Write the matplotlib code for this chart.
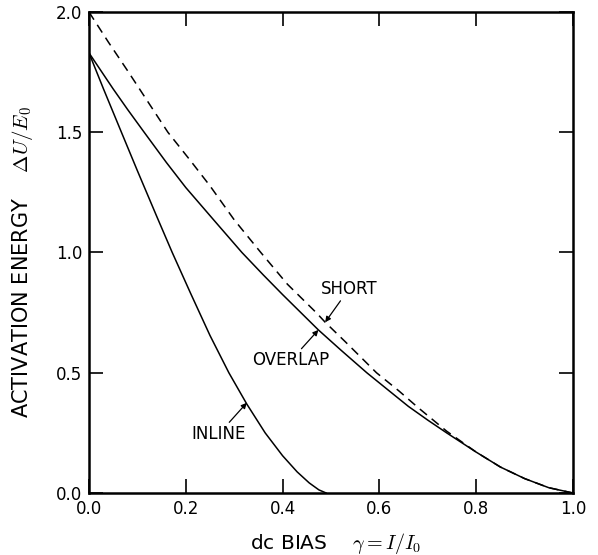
import matplotlib
matplotlib.use("Agg")
import matplotlib.pyplot as plt

# valori: bias gamma e energia di attivazione dU/E0
short_x = [0.0, 0.04, 0.08, 0.12, 0.163, 0.21, 0.25, 0.3, 0.355, 0.41, 0.47, 0.488, 0.53, 0.594,
           0.64, 0.68, 0.739, 0.8, 0.85, 0.9, 0.95, 1.0]
short_y = [2.0, 1.875, 1.755, 1.632, 1.5, 1.381, 1.277, 1.136, 1.0, 0.868, 0.749, 0.71, 0.628, 0.5,
           0.425, 0.355, 0.257, 0.17, 0.108, 0.06, 0.022, 0.0]

overlap_x = [0.0, 0.025, 0.05, 0.08, 0.114, 0.16, 0.2, 0.26, 0.316, 0.36, 0.4, 0.474, 0.52, 0.574,
             0.62, 0.66, 0.7, 0.739, 0.8, 0.85, 0.9, 0.95, 1.0]
overlap_y = [1.83, 1.755, 1.68, 1.594, 1.5, 1.374, 1.27, 1.13, 1.0, 0.907, 0.825, 0.678, 0.595, 0.5,
             0.425, 0.36, 0.303, 0.25, 0.17, 0.108, 0.06, 0.022, 0.0]

inline_x = [0.0, 0.03, 0.067, 0.1, 0.14, 0.172, 0.21, 0.25, 0.289, 0.326, 0.364, 0.4, 0.43,
            0.455, 0.475, 0.49]
inline_y = [1.83, 1.68, 1.5, 1.34, 1.15, 1.0, 0.83, 0.655, 0.5, 0.37, 0.25, 0.155, 0.088,
            0.042, 0.013, 0.0]

x_ticks = [0.0, 0.2, 0.4, 0.6, 0.8, 1.0]
y_ticks = [0.0, 0.5, 1.0, 1.5, 2.0]

plt.rcParams['mathtext.fontset'] = 'cm'

fig = plt.figure(figsize=(5.98, 5.55), dpi=100)
ax = fig.add_axes([0.1488, 0.1117, 0.8094, 0.8667])

ax.plot(short_x, short_y, color='black', lw=1.1, ls=(0, (6, 4)))
ax.plot(overlap_x, overlap_y, color='black', lw=1.1)
ax.plot(inline_x, inline_y, color='black', lw=1.1)

ax.set_xlim(0, 1)
ax.set_ylim(0, 2)
ax.set_xticks(x_ticks)
ax.set_yticks(y_ticks)
ax.set_xticklabels(['%.1f' % t for t in x_ticks])
ax.set_yticklabels(['%.1f' % t for t in y_ticks])
ax.tick_params(direction='in', length=10, width=1.2, top=True, right=True, labelsize=12)
ax.tick_params(axis='x', pad=5)
ax.tick_params(axis='y', pad=5)
for s in ax.spines.values():
    s.set_linewidth(1.8)

ax.set_xlabel(r'dc BIAS    $\gamma = I/I_0$', fontsize=14.5, va='center')
ax.set_ylabel(r'ACTIVATION ENERGY    $\Delta U/E_0$', fontsize=15, va='center')
ax.xaxis.set_label_coords(0.51, -0.105)
ax.yaxis.set_label_coords(-0.137, 0.48)

# etichette con freccia
frecce = dict(arrowstyle='-|>', color='black', lw=0.9, mutation_scale=8,
              shrinkA=0, shrinkB=0)
ax.annotate('SHORT', xy=(0.488, 0.71), xytext=(0.537, 0.848), fontsize=12,
            ha='center', va='center', arrowprops=frecce)
ax.annotate('OVERLAP', xy=(0.474, 0.678), xytext=(0.417, 0.551), fontsize=12,
            ha='center', va='center', arrowprops=frecce)
ax.annotate('INLINE', xy=(0.326, 0.375), xytext=(0.268, 0.245), fontsize=12,
            ha='center', va='center', arrowprops=frecce)

fig.savefig('out.png', dpi=100)
